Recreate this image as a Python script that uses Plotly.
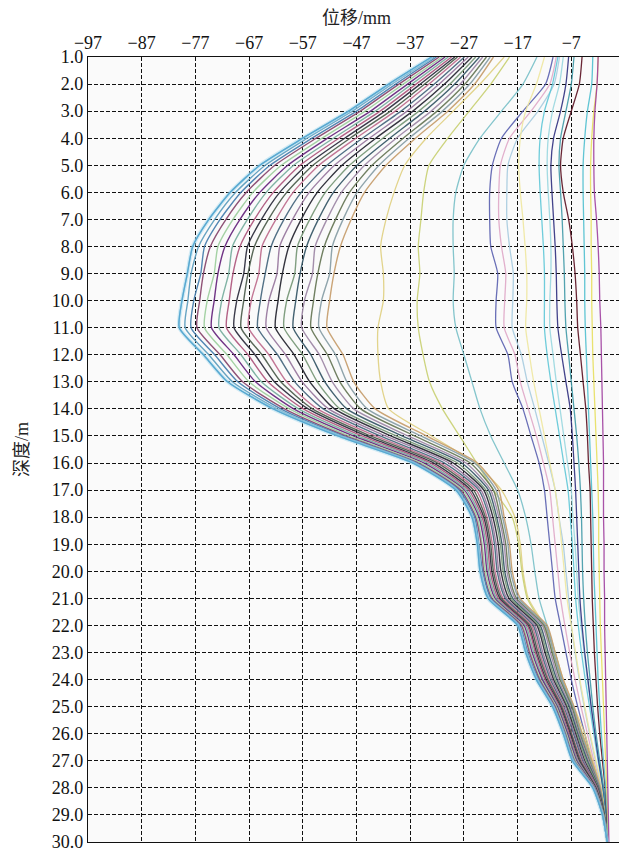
import plotly.graph_objects as go

# depth (m)
DEPTH = [1.0, 2.0, 3.0, 4.0, 5.0, 6.0, 7.0, 8.0, 9.0, 10.0,
         11.0, 12.0, 13.0, 14.0, 15.0, 16.0, 17.0, 18.0, 19.0, 20.0,
         21.0, 22.0, 23.0, 24.0, 25.0, 26.0, 27.0, 28.0, 29.0, 30.0]

# axis ticks
X_TICKS = [-97, -87, -77, -67, -57, -47, -37, -27, -17, -7, 3]
Y_TICKS = [1.0, 2.0, 3.0, 4.0, 5.0, 6.0, 7.0, 8.0, 9.0, 10.0,
           11.0, 12.0, 13.0, 14.0, 15.0, 16.0, 17.0, 18.0, 19.0, 20.0,
           21.0, 22.0, 23.0, 24.0, 25.0, 26.0, 27.0, 28.0, 29.0, 30.0]

# ---- large-deformation readings (mm), outermost first ----
big_01 = [-33, -41, -48.5, -57, -65, -70.5, -74.5, -77.5, -78.5, -79.5, -80, -75.5, -71, -62.5, -50.5, -36.5, -28.5, -25.5, -24.5, -24, -22.5, -17, -15.5, -13.5, -10.5, -8.5, -6.8, -3, -1.2, -0.3]
big_02 = [-32.5, -40.4, -47.8, -56.2, -64, -69.5, -73.4, -76.4, -77.8, -78.4, -78.9, -74.5, -70.1, -61.8, -50, -36.2, -28.2, -25.3, -24.3, -23.8, -22.3, -16.8, -15.3, -13.3, -10.3, -8.4, -6.7, -2.9, -1.2, -0.3]
big_03 = [-32.1, -39.7, -47, -55.3, -63.1, -68.5, -72.4, -75.3, -76.0, -77.3, -77.8, -73.4, -69.1, -61.1, -49.5, -35.8, -27.9, -25, -24.2, -23.5, -22, -16.6, -15.1, -13.1, -10.2, -8.2, -6.5, -2.9, -1.2, -0.3]
big_04 = [-31.6, -39.1, -46.3, -54.5, -62.2, -67.5, -71.3, -74.2, -75.5, -76.2, -76.7, -72.4, -68.2, -60.4, -49, -35.5, -27.6, -24.8, -23.8, -23.3, -21.8, -16.3, -14.8, -12.9, -10, -8.1, -6.4, -2.8, -1.2, -0.3]
big_05 = [-31, -38.3, -45.4, -53.4, -61, -66.3, -70, -72.8, -73.5, -74.8, -75.3, -71.1, -67, -59.5, -48.4, -35, -27.2, -24.5, -23.6, -23, -21.5, -16.1, -14.6, -12.7, -9.8, -7.9, -6.2, -2.8, -1.1, -0.3]
big_06 = [-30.5, -37.5, -44.4, -52.4, -59.8, -65, -68.7, -71.5, -72.8, -73.5, -74, -69.8, -65.8, -58.7, -47.6, -34.4, -26.9, -24.2, -23.2, -22.7, -21.2, -15.8, -14.3, -12.4, -9.6, -7.7, -6, -2.7, -1.1, -0.3]
big_07 = [-29.9, -36.7, -43.5, -51.3, -58.7, -63.8, -67.3, -70.1, -70.8, -72.1, -72.6, -68.5, -64.7, -57.8, -46.8, -33.8, -26.5, -23.9, -22.9, -22.4, -20.9, -15.5, -14, -12.2, -9.4, -7.6, -5.8, -2.6, -1.1, -0.3]
big_08 = [-29.3, -35.9, -42.6, -50.3, -57.5, -62.5, -66, -68.7, -70.0, -70.7, -71.2, -67.2, -63.5, -56.9, -46, -33.2, -26.1, -23.6, -22.6, -22.1, -20.6, -15.2, -13.7, -11.9, -9.2, -7.4, -5.7, -2.6, -1.1, -0.3]
big_09 = [-28.7, -35.1, -41.7, -49.2, -56.3, -61.3, -64.7, -67.3, -68.0, -69.3, -69.8, -65.9, -62.3, -56, -45.2, -32.6, -25.7, -23.3, -22.3, -21.8, -20.3, -15, -13.5, -11.7, -9, -7.2, -5.5, -2.5, -1.1, -0.3]
big_10 = [-28.2, -34.3, -40.7, -48.2, -55.1, -60, -63.4, -66, -67.2, -68, -68.5, -64.6, -61.1, -55.2, -44.4, -31.9, -25.2, -23, -22, -21.5, -20, -14.7, -13.2, -11.4, -8.8, -7, -5.3, -2.4, -1, -0.3]
big_11 = [-27.6, -33.5, -39.8, -47.1, -54, -58.8, -62, -64.6, -65.2, -66.6, -67.1, -63.3, -60, -54.3, -43.5, -31.3, -24.7, -22.7, -21.7, -21.2, -19.7, -14.4, -12.9, -11.2, -8.6, -6.9, -5.1, -2.3, -1, -0.3]
big_12 = [-26.9, -32.5, -38.7, -45.9, -52.5, -57.3, -60.5, -62.9, -64.0, -64.9, -65.4, -61.7, -58.5, -53.2, -42.6, -30.6, -24.2, -22.3, -21.3, -20.8, -19.3, -14.1, -12.6, -10.9, -8.4, -6.6, -4.9, -2.3, -1, -0.3]
big_13 = [-26.2, -31.6, -37.6, -44.6, -51.1, -55.8, -58.9, -61.3, -61.8, -63.3, -63.8, -60.2, -57.1, -52.2, -41.6, -29.8, -23.8, -22, -21, -20.5, -19, -13.8, -12.3, -10.6, -8.1, -6.4, -4.7, -2.2, -1, -0.3]
big_14 = [-25.5, -30.6, -36.5, -43.4, -49.7, -54.3, -57.3, -59.6, -60.8, -61.6, -62.1, -58.6, -55.7, -51.1, -40.6, -29, -23.3, -21.6, -20.6, -20.1, -18.6, -13.4, -11.9, -10.3, -7.9, -6.2, -4.5, -2.1, -0.9, -0.3]
big_15 = [-24.8, -29.6, -35.4, -42.1, -48.3, -52.8, -55.7, -58, -58.5, -60, -60.5, -57, -54.3, -50.1, -39.6, -28.2, -22.9, -21.2, -20.2, -19.7, -18.2, -13.1, -11.6, -10, -7.7, -6, -4.2, -2, -0.9, -0.3]
big_16 = [-24.1, -28.7, -34.3, -40.8, -46.9, -51.3, -54.1, -56.3, -57.5, -58.3, -58.8, -55.5, -52.9, -48.8, -38.5, -27.4, -22.4, -20.9, -19.9, -19.4, -17.9, -12.8, -11.3, -9.7, -7.4, -5.8, -4, -1.9, -0.9, -0.3]
big_17 = [-23.5, -27.7, -33.1, -39.6, -45.5, -49.8, -52.5, -54.7, -55.2, -56.7, -57.2, -53.9, -51.5, -47.5, -37.4, -26.6, -22, -20.5, -19.5, -19, -17.5, -12.4, -10.9, -9.4, -7.2, -5.6, -3.8, -1.8, -0.9, -0.3]
big_18 = [-22.8, -26.8, -32, -38.3, -44.1, -48.3, -50.9, -53, -54.2, -55, -55.5, -52.4, -50.1, -46.2, -36.2, -25.8, -21.5, -20.2, -19.2, -18.7, -17.2, -12.1, -10.6, -9.1, -6.9, -5.4, -3.6, -1.8, -0.8, -0.3]
big_19 = [-22.1, -25.9, -31, -37.2, -42.8, -46.9, -49.5, -51.5, -52.0, -53.5, -54, -50.9, -48.8, -45, -35, -25, -21, -19.8, -18.8, -18.3, -16.8, -11.8, -10.3, -8.8, -6.7, -5.2, -3.4, -1.7, -0.8, -0.3]
big_20 = [-21.5, -25, -30, -36, -41.5, -45.5, -48, -50, -51.2, -52, -52.5, -49.5, -47.5, -43.5, -34, -24.5, -20.5, -19.5, -18.5, -18, -16.5, -11.5, -10, -8.5, -6.5, -5, -3.2, -1.6, -0.8, -0.4]

# ---- transitional readings (mm) ----
mid_01 = [-19.5, -24, -29, -34, -38, -40, -41.5, -42.5, -42, -42, -43, -43, -42.5, -41, -33, -25, -20, -17.5, -16.5, -16, -15, -12, -10, -8.5, -6.5, -4.5, -3, -1.5, -0.8, -0.4]
mid_02 = [-18.5, -22, -26, -30, -33.5, -34.5, -35, -35.5, -35.2, -35.7, -35.5, -34.6, -33.4, -31, -27.8, -24.6, -21.5, -18, -16.8, -16.2, -15.2, -12.3, -10.4, -8.8, -6.8, -4.9, -3.2, -1.6, -0.8, -0.4]
mid_03 = [-13.4, -16, -20, -24, -27, -28.5, -29, -29, -28.8, -29, -28.5, -27, -25.5, -24, -22, -19.5, -17, -15.5, -14.5, -13.8, -13, -11.5, -10, -8.7, -7.2, -5.6, -4, -2.2, -1, -0.4]

# ---- small-deformation readings (mm) ----
small_01 = [-10.4, -11.8, -16, -20, -21.7, -22.2, -22.2, -22, -20.7, -21, -21, -18.8, -18, -16, -14.5, -13, -12, -11.5, -11, -10.5, -10, -9, -8, -7, -5.8, -4.5, -3.2, -1.6, -0.8, -0.3]
small_02 = [-9.8, -11, -14.5, -18.5, -20.2, -20.5, -20.5, -20, -19.2, -19.4, -19.5, -17.5, -16.5, -15, -13.5, -12.2, -11, -10.5, -10, -9.5, -9, -8.2, -7.3, -6.3, -5.2, -4, -2.8, -1.4, -0.7, -0.3]
small_03 = [-9.2, -10.2, -13.2, -17, -18.8, -19, -19, -18.5, -17.8, -17.9, -18, -16.3, -15.2, -13.8, -12.5, -11.2, -10, -9.3, -8.5, -8, -7.5, -7, -6.3, -5.5, -4.6, -3.6, -2.5, -1.3, -0.6, -0.3]
small_04 = [-12, -13.5, -15.5, -16.5, -16.8, -16.5, -16, -15.6, -15.3, -15.3, -15.5, -14.8, -14, -13, -12, -11, -10, -9.3, -8.8, -8.3, -7.8, -7, -6.2, -5.4, -4.5, -3.5, -2.4, -1.2, -0.6, -0.3]
small_05 = [-9.5, -10.5, -12, -12.8, -13, -12.8, -12.5, -12.2, -12, -12, -12, -11.5, -10.8, -10, -9.2, -8.4, -7.6, -7.2, -6.8, -6.5, -6.2, -5.7, -5.1, -4.4, -3.6, -2.8, -2, -1.1, -0.5, -0.2]
small_06 = [-8.5, -9.2, -10.5, -11.3, -11.5, -11.3, -11, -10.8, -10.8, -11, -11, -10.4, -9.8, -9.1, -8.4, -7.7, -7, -6.7, -6.3, -6, -5.7, -5.2, -4.6, -4, -3.3, -2.6, -1.8, -1, -0.5, -0.2]
small_07 = [-7.5, -8, -9, -10.3, -10.8, -10.6, -10.3, -10, -9.8, -9.7, -9.5, -8.8, -8, -7.2, -6.8, -6.5, -6.2, -6, -5.8, -5.6, -5.4, -5, -4.5, -3.9, -3.3, -2.6, -1.9, -1.1, -0.5, -0.2]
small_08 = [-6.5, -7, -8, -9, -9.3, -9, -8.7, -8.5, -8.3, -8.2, -8, -7.5, -7, -6.5, -6, -5.6, -5.3, -5.1, -5, -4.9, -4.7, -4.4, -4, -3.5, -3, -2.4, -1.7, -1, -0.5, -0.2]
small_09 = [-5, -5.5, -7, -8.5, -9, -8.5, -7.5, -6.8, -6.3, -6, -5.8, -5.3, -4.8, -4.3, -4, -3.8, -3.5, -3.4, -3.3, -3.2, -3.1, -2.9, -2.7, -2.4, -2.1, -1.7, -1.2, -0.7, -0.4, -0.2]
small_10 = [-3, -3.2, -4, -4.5, -4.8, -4.8, -4.7, -4.6, -4.5, -4.5, -4.4, -4.2, -4, -3.8, -3.6, -3.4, -3.2, -3, -2.9, -2.8, -2.6, -2.4, -2.2, -2, -1.7, -1.4, -1, -0.6, -0.3, -0.1]
small_11 = [-2, -2.2, -2.8, -3.2, -3.4, -3.4, -3.3, -3.3, -3.2, -3.2, -3.1, -3, -2.8, -2.6, -2.4, -2.2, -2, -1.9, -1.9, -1.8, -1.7, -1.6, -1.4, -1.2, -1, -0.8, -0.6, -0.4, -0.2, -0.1]
small_12 = [-2, -2.2, -2.6, -2.8, -2.8, -2.7, -2.3, -2, -1.8, -1.7, -1.5, -1.4, -1.3, -1.2, -1.1, -1, -1, -1, -0.9, -0.9, -0.8, -0.8, -0.7, -0.6, -0.5, -0.4, -0.3, -0.2, -0.1, 0]

BIG = [big_20, big_19, big_18, big_17, big_16, big_15, big_14, big_13, big_12, big_11,
       big_10, big_09, big_08, big_07, big_06, big_05, big_04, big_03, big_02, big_01]
BIG_COLORS = ["#c8a070", "#8aa0a8", "#6a7a5a", "#a08aa8", "#3a5a6a", "#7a9a7a", "#2a2a35", "#9a7aa0",
              "#4a6a80", "#c07090", "#506050", "#303040", "#b05a80", "#7ab0a0", "#6a2a80",
              "#a0d0a0", "#8a4a70", "#4a80b0", "#60a0c0", "#70c0e0"]
MID = [mid_01, mid_02, mid_03]
MID_COLORS = ["#e0d080", "#c8d070", "#78c0c8"]
SMALL = [small_01, small_02, small_03, small_04, small_05, small_06,
         small_07, small_08, small_09, small_10, small_11, small_12]
SMALL_COLORS = ["#5a60b0", "#e0a8c8", "#a8cce0", "#f0e8a0", "#60c8d8", "#9ad8e0",
                "#303080", "#409aa8", "#5a1020", "#50c0d0", "#e8e060", "#a040a0"]

fig = go.Figure()

def add(vals, color, width=1.3, opacity=0.95):
    fig.add_trace(go.Scatter(x=vals, y=DEPTH, mode="lines",
                             line=dict(color=color, width=width, shape="spline", smoothing=0.6),
                             opacity=opacity, showlegend=False, hoverinfo="skip"))

for vals, c in zip(SMALL, SMALL_COLORS):
    add(vals, c, 1.3, 0.9)
for vals, c in zip(MID, MID_COLORS):
    add(vals, c, 1.3, 0.9)
for vals, c in zip(BIG, BIG_COLORS):
    add(vals, c, 1.4, 0.95)
# soft halo of outermost reading
add(big_01, "#a8dcf0", 4, 0.5)
add(big_01, "#5aa8d0", 1.4, 1)

font = dict(family="Liberation Serif, Times New Roman, serif", size=18, color="#111")
grid = dict(showgrid=True, gridcolor="#111", gridwidth=1, griddash="4px,2px",
            showline=True, linecolor="#111", linewidth=1.2, mirror=True,
            zeroline=False, ticks="", tickfont=font, automargin=False,
            ticklabeloverflow="allow")

title_font = dict(family="Liberation Serif, Noto Sans CJK SC", size=18, color="#222")

fig.update_layout(
    width=627, height=854,
    margin=dict(l=80, r=10, t=49, b=20),
    paper_bgcolor="white", plot_bgcolor="#fafafa",
    showlegend=False,
    xaxis=dict(side="top", range=[-97, 3], tickvals=X_TICKS,
               ticktext=[("−" + str(-v)) if v < 0 else str(v) for v in X_TICKS],
               title=dict(text="位移/mm", font=title_font, standoff=13),
               **grid),
    yaxis=dict(range=[30, 1], tickvals=Y_TICKS, ticktext=[f"{v:.1f}" for v in Y_TICKS],
               title=dict(text="深度/m", font=title_font, standoff=18),
               **grid),
)

fig.write_html("out.html")
